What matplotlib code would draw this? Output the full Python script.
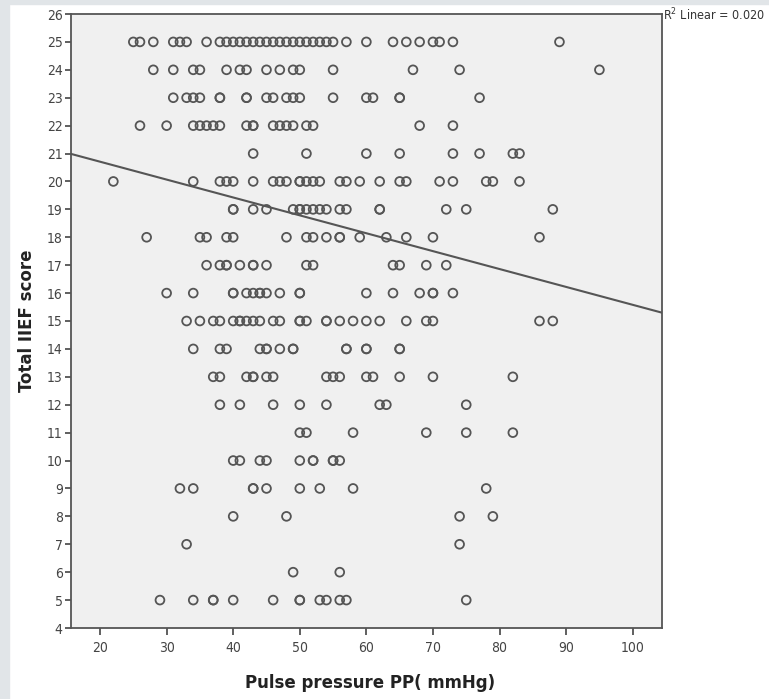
import numpy as np
import matplotlib
matplotlib.use('agg')
import matplotlib.pyplot as plt
from matplotlib import font_manager

# IIEF score rows -> pulse pressure values
pp_by_score = {
    25: [25, 26, 28, 31, 32, 33, 36, 38, 39, 40, 41, 42, 43, 44, 45, 46, 47, 48, 49,
         50, 51, 52, 53, 54, 55, 57, 60, 64, 66, 68, 70, 71, 73, 89],
    24: [28, 31, 34, 35, 39, 41, 42, 45, 47, 49, 50, 55, 67, 74, 95],
    23: [31, 33, 34, 35, 38, 38, 42, 42, 45, 46, 48, 49, 50, 55, 60, 61, 65, 65, 77],
    22: [26, 30, 34, 35, 36, 37, 38, 42, 43, 43, 46, 47, 48, 49, 51, 52, 68, 73],
    21: [43, 51, 60, 65, 73, 77, 82, 83],
    20: [22, 34, 38, 39, 40, 43, 46, 47, 48, 50, 50, 51, 52, 53, 56, 57, 59, 62, 65,
         66, 71, 73, 78, 79, 83],
    19: [40, 40, 43, 45, 49, 50, 50, 51, 52, 53, 54, 56, 57, 62, 62, 72, 75, 88],
    18: [27, 35, 36, 39, 40, 48, 51, 52, 54, 56, 56, 59, 63, 66, 70, 86],
    17: [36, 38, 39, 39, 41, 43, 43, 45, 51, 52, 64, 65, 69, 72],
    16: [30, 34, 40, 40, 42, 43, 44, 44, 45, 47, 50, 50, 60, 64, 68, 70, 70, 73],
    15: [33, 35, 37, 38, 40, 41, 41, 42, 43, 44, 46, 47, 50, 50, 51, 54, 54, 56, 58,
         60, 62, 66, 69, 70, 86, 88],
    14: [34, 38, 39, 44, 45, 45, 47, 49, 49, 57, 57, 60, 60, 65, 65],
    13: [37, 38, 42, 43, 43, 45, 46, 54, 55, 56, 60, 61, 65, 70, 82],
    12: [38, 41, 46, 50, 54, 62, 63, 75],
    11: [50, 51, 58, 69, 75, 82],
    10: [40, 41, 44, 45, 50, 52, 52, 55, 55, 56],
    9: [32, 34, 43, 43, 45, 50, 53, 58, 78],
    8: [40, 48, 74, 79],
    7: [33, 74],
    6: [49, 56],
    5: [29, 34, 37, 37, 40, 46, 50, 50, 53, 54, 56, 57, 75],
}

# linear fit as shown on the chart
fit_intercept = 21.99
fit_slope = -0.0641
r2_text = 'R$^2$ Linear = 0.020'

x_ticks = list(range(20, 101, 10))
y_ticks = list(range(4, 27))

pp = np.concatenate([np.array(v, dtype=float) for v in pp_by_score.values()])
score = np.concatenate([np.full(len(v), k, dtype=float) for k, v in pp_by_score.items()])

# SPSS output uses a narrow Arial; use a condensed face if one is around
names = {f.name for f in font_manager.fontManager.ttflist}
if 'Liberation Sans Narrow' in names:
    plt.rcParams['font.family'] = ['Liberation Sans Narrow', 'DejaVu Sans']
    narrow = True
elif any('Condensed' in f.fname and 'DejaVuSans' in f.fname
         for f in font_manager.fontManager.ttflist):
    plt.rcParams['font.family'] = ['DejaVu Sans']
    plt.rcParams['font.stretch'] = 'condensed'
    narrow = True
else:
    plt.rcParams['font.family'] = ['Liberation Sans', 'DejaVu Sans']
    narrow = False
plt.rcParams['mathtext.fontset'] = 'custom'
plt.rcParams['mathtext.rm'] = plt.rcParams['font.family'][0]

lab_size = 13.3 if narrow else 13.5

fig = plt.figure(figsize=(7.69, 6.99), dpi=100)
# light grey page edge like the source screenshot
fig.patches.append(plt.Rectangle((0, 0), 9 / 769, 1, transform=fig.transFigure,
                                 color='#e1e5e8', zorder=0))
fig.patches.append(plt.Rectangle((0, 1 - 4 / 699), 1, 4 / 699, transform=fig.transFigure,
                                 color='#e1e5e8', zorder=0))

ax = fig.add_axes([71 / 769, 1 - 628 / 699, 591 / 769, 614 / 699])
ax.set_facecolor('#f0f0f0')

ax.scatter(pp, score, s=40, facecolors='none', edgecolors='#555555', linewidths=1.3,
           zorder=3)

xlim = (15.64, 104.4)
xs = np.array(xlim)
ax.plot(xs, fit_intercept + fit_slope * xs, color='#555555', lw=1.5, zorder=2)

ax.set_xlim(*xlim)
ax.set_ylim(4, 26)
ax.set_xticks(x_ticks)
ax.set_yticks(y_ticks)
ax.tick_params(axis='both', direction='out', color='#444444', labelcolor='#444444',
               labelsize=10, width=1.2)
ax.tick_params(axis='x', length=5, pad=4)
ax.tick_params(axis='y', length=4, pad=2)
for sp in ax.spines.values():
    sp.set_color('#555555')
    sp.set_linewidth(1.3)

ax.set_xlabel('Pulse pressure PP( mmHg)', fontsize=lab_size, fontweight='bold',
              color='#222222', va='center')
ax.set_ylabel('Total IIEF score', fontsize=lab_size, fontweight='bold', color='#222222',
              va='center')
ax.xaxis.set_label_coords((370 - 71) / 591, -(683 - 628) / 614)
ax.yaxis.set_label_coords(-(71 - 27) / 591, 0.5)

fig.text(663 / 769, 1 - 15 / 699, r2_text, fontsize=9, color='#333333',
         ha='left', va='center')

fig.savefig('out.png', dpi=100)
